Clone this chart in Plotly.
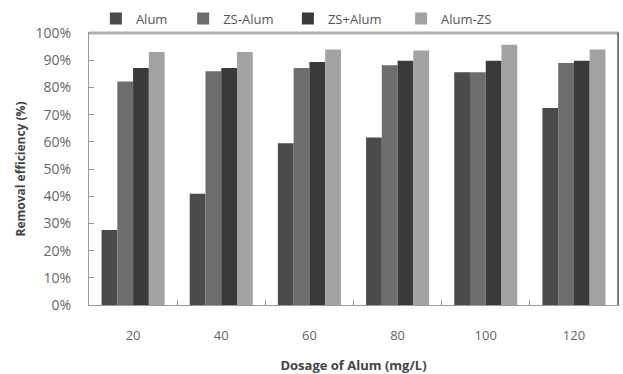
import plotly.graph_objects as go

categories = ["20", "40", "60", "80", "100", "120"]
series_names = ["Alum", "ZS-Alum", "ZS+Alum", "Alum-ZS"]
alum = [27.6, 40.9, 59.5, 61.6, 85.6, 72.4]
zs_alum = [82.2, 85.9, 87.1, 88.1, 85.6, 89.0]
zs_plus_alum = [87.1, 87.1, 89.3, 89.8, 89.8, 89.8]
alum_zs = [93.0, 93.0, 93.9, 93.6, 95.7, 93.9]
y_ticks = [0, 10, 20, 30, 40, 50, 60, 70, 80, 90, 100]

values = [alum, zs_alum, zs_plus_alum, alum_zs]
colors = ["#4b4b4b", "#6d6d6d", "#3a3a3a", "#a2a2a2"]
legend_x = [0.013, 0.178, 0.376, 0.590]

fig = go.Figure()
legends = {}
for i, (name, vals, col) in enumerate(zip(series_names, values, colors)):
    key = "legend" if i == 0 else f"legend{i+1}"
    fig.add_trace(go.Bar(x=categories, y=vals, name=name, legend=key,
                         marker=dict(color=col, line=dict(width=0))))
    legends[key] = dict(orientation="h", x=legend_x[i], xanchor="left",
                        y=0.998, yanchor="bottom", bgcolor="rgba(0,0,0,0)",
                        font=dict(size=13, color="#555555"), itemwidth=30)

fig.update_layout(
    width=623, height=374,
    margin=dict(l=89, r=5, t=33, b=69, autoexpand=False),
    paper_bgcolor="white", plot_bgcolor="white",
    barmode="group", bargap=0.285, bargroupgap=0,
    font=dict(family="Open Sans", size=13, color="#666666"),
    showlegend=True,
    **legends,
)
fig.update_xaxes(
    type="category",
    title=dict(text="<b>Dosage of Alum (mg/L)</b>", font=dict(size=13, color="#444444"), standoff=18),
    showline=True, linecolor="#999999", linewidth=1, mirror=True,
    ticks="inside", ticklen=5, tickcolor="#999999", tickson="boundaries",
    ticklabelstandoff=18,
    showgrid=False, tickfont=dict(size=13, color="#666666"),
)
fig.update_yaxes(
    range=[0, 100], tickvals=y_ticks, ticktext=[f"{v}%" for v in y_ticks],
    title=dict(text="<b>Removal efficiency (%)</b>", font=dict(size=12, color="#444444"), standoff=7),
    showline=True, linecolor="#999999", linewidth=1, mirror=True,
    ticks="inside", ticklen=5, tickcolor="#999999",
    ticklabelstandoff=14,
    showgrid=False, zeroline=False, tickfont=dict(size=14, color="#666666"),
)
fig.add_shape(type="line", xref="paper", yref="paper", x0=0, x1=1, y0=1, y1=1,
              line=dict(color="#b0b0b0", width=3))
fig.add_shape(type="line", xref="paper", yref="paper", x0=1, x1=1, y0=0, y1=1,
              line=dict(color="#666666", width=1.5))

fig.write_html("out.html")
